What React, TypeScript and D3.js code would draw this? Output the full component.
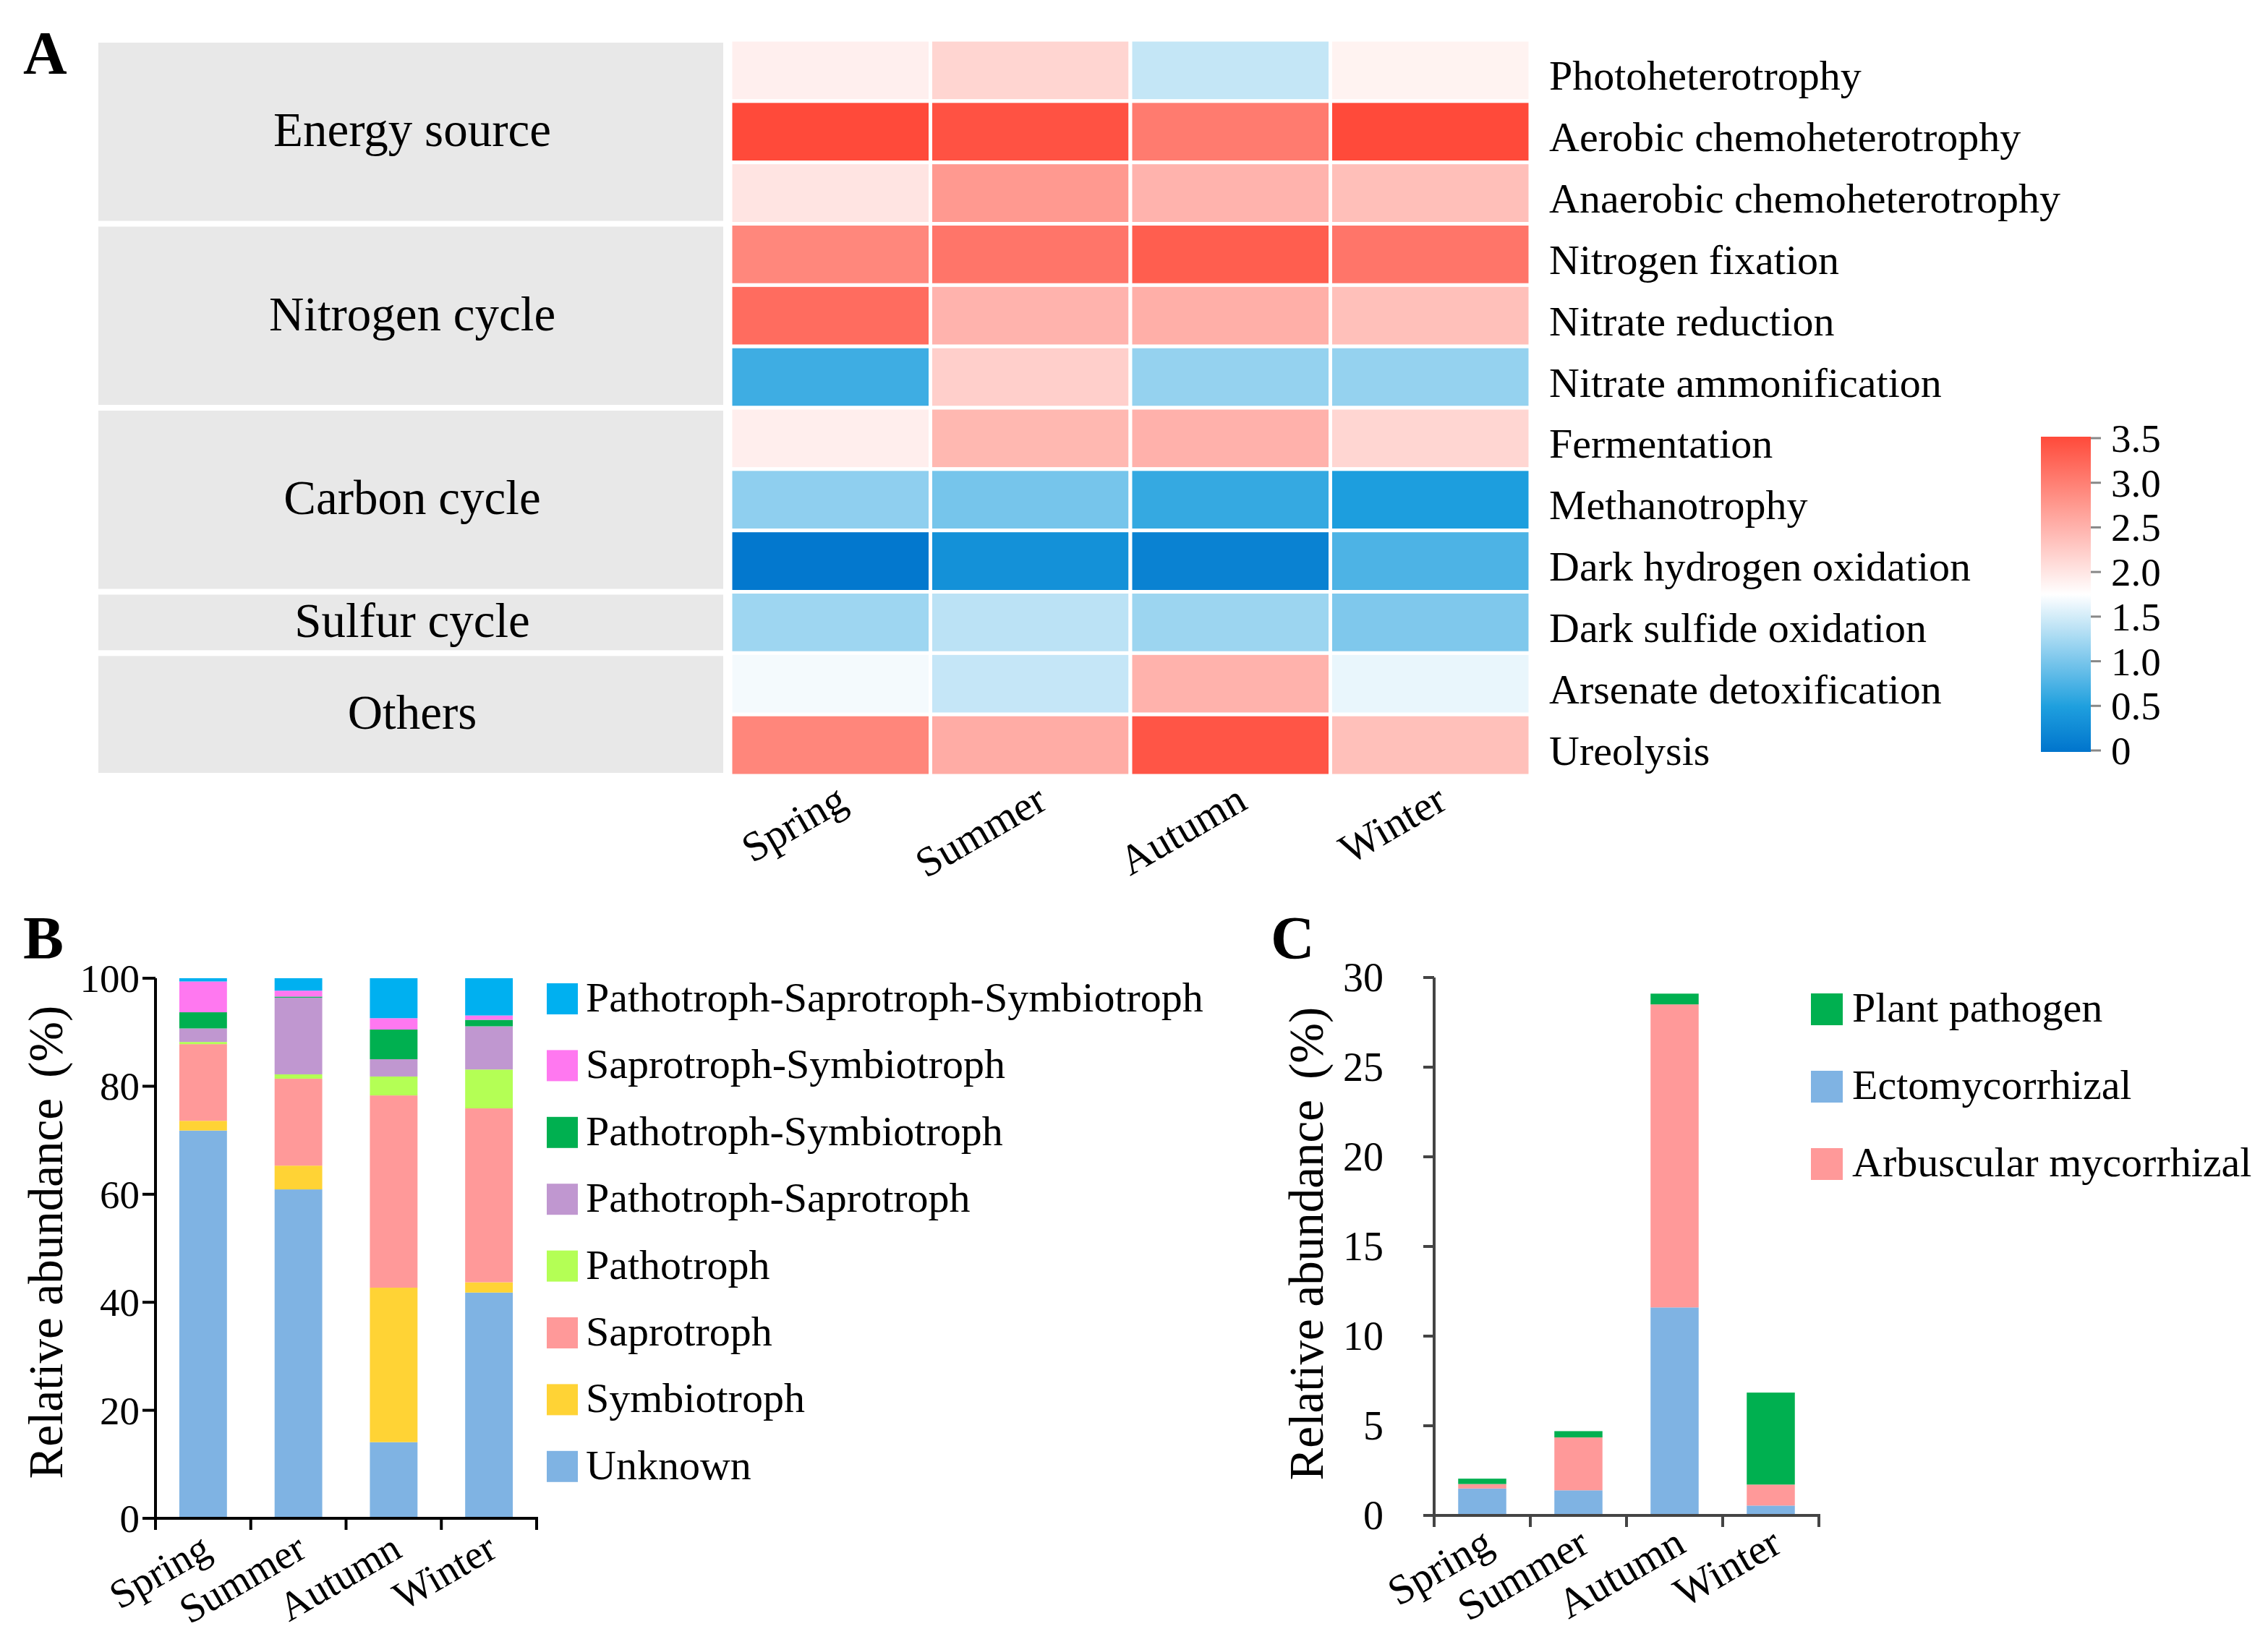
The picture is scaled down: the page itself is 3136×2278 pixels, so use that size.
import React from "react";
import * as d3 from "d3";

const seasons = ["Spring", "Summer", "Autumn", "Winter"];

const functionNames = [
  "Photoheterotrophy",
  "Aerobic chemoheterotrophy",
  "Anaerobic chemoheterotrophy",
  "Nitrogen fixation",
  "Nitrate reduction",
  "Nitrate ammonification",
  "Fermentation",
  "Methanotrophy",
  "Dark hydrogen oxidation",
  "Dark sulfide oxidation",
  "Arsenate detoxification",
  "Ureolysis",
];
const groupNames = ["Energy source", "Nitrogen cycle", "Carbon cycle", "Sulfur cycle", "Others"];
const groupSizes = [3, 3, 3, 1, 2];

const heatSpring = [1.9, 3.5, 2.01, 2.91, 3.17, 0.68, 1.91, 1.13, 0.05, 1.21, 1.69, 2.92];
const heatSummer = [2.16, 3.42, 2.74, 3.08, 2.48, 2.21, 2.44, 0.99, 0.34, 1.37, 1.43, 2.55];
const heatAutumn = [1.42, 3.03, 2.48, 3.31, 2.52, 1.16, 2.5, 0.63, 0.16, 1.2, 2.49, 3.39];
const heatWinter = [1.87, 3.5, 2.37, 3.08, 2.36, 1.16, 2.15, 0.49, 0.76, 1.04, 1.63, 2.36];
const colorbarTicks = [0, 0.5, 1.0, 1.5, 2.0, 2.5, 3.0, 3.5];

// Panel B (bottom -> top)
const guildNames = [
  "Unknown",
  "Symbiotroph",
  "Saprotroph",
  "Pathotroph",
  "Pathotroph-Saprotroph",
  "Pathotroph-Symbiotroph",
  "Saprotroph-Symbiotroph",
  "Pathotroph-Saprotroph-Symbiotroph",
];
const guildColors = ["#7fb3e3", "#ffd335", "#ff9999", "#b4ff55", "#c097d0", "#00b050", "#ff78f0", "#00b0f0"];
const unknownVals = [71.8, 60.9, 14.1, 41.8];
const symbiotrophVals = [1.8, 4.4, 28.6, 1.9];
const saprotrophVals = [14.2, 16.1, 35.6, 32.2];
const pathotrophVals = [0.4, 0.8, 3.5, 7.2];
const pathoSaproVals = [2.5, 14.2, 3.2, 8.0];
const pathoSymbVals = [3.0, 0.2, 5.5, 1.2];
const saproSymbVals = [5.7, 1.1, 2.1, 0.8];
const pathoSaproSymbVals = [0.6, 2.3, 7.4, 6.9];
const bTicks = [0, 20, 40, 60, 80, 100];

// Panel C (bottom -> top)
const cNames = ["Ectomycorrhizal", "Arbuscular mycorrhizal", "Plant pathogen"];
const cColors = ["#7fb3e3", "#ff9999", "#00b050"];
const ectoVals = [1.5, 1.4, 11.6, 0.55];
const arbuscularVals = [0.25, 2.95, 16.9, 1.17];
const plantPathogenVals = [0.3, 0.35, 0.6, 5.13];
const cLegendOrder = ["Plant pathogen", "Ectomycorrhizal", "Arbuscular mycorrhizal"];
const cTicks = [0, 5, 10, 15, 20, 25, 30];

const FONT = "'Liberation Serif', 'Times New Roman', Times, serif";

const heatColor = d3
  .scaleLinear<string>()
  .domain([0, 0.5, 1.75, 3.5])
  .range(["#0074cc", "#1e9fde", "#ffffff", "#ff4a3a"])
  .interpolate(d3.interpolateRgb)
  .clamp(true);

function PanelA() {
  const heatCols = [heatSpring, heatSummer, heatAutumn, heatWinter];
  const x = d3.scaleBand<string>().domain(seasons).range([1010, 2116]);
  const y = d3.scaleBand<string>().domain(functionNames).range([55, 1073]);
  const bw = y.bandwidth();
  const cb = d3.scaleLinear().domain([0, 3.5]).range([1038, 606]);
  const stops = d3.range(0, 3.5001, 0.125);

  let start = 0;
  const groups = groupNames.map((g, i) => {
    const first = functionNames[start];
    const last = functionNames[start + groupSizes[i] - 1];
    start += groupSizes[i];
    return { name: g, y0: (y(first) as number) + 4, y1: (y(last) as number) + bw - 4 };
  });

  return (
    <g>
      <text x={32} y={102} fontSize={84} fontWeight="bold" fontFamily={FONT}>A</text>
      {groups.map((g) => (
        <g key={g.name}>
          <rect x={136} y={g.y0} width={864} height={g.y1 - g.y0} fill="#e8e8e8" />
          <text
            x={570}
            y={(g.y0 + g.y1) / 2 + 20}
            textAnchor="middle"
            fontSize={67}
            fontFamily={FONT}
          >
            {g.name}
          </text>
        </g>
      ))}
      {seasons.map((s, si) =>
        functionNames.map((f, fi) => (
          <rect
            key={s + f}
            x={x(s)}
            y={y(f)}
            width={x.bandwidth()}
            height={bw}
            fill={heatColor(heatCols[si][fi])}
            stroke="#ffffff"
            strokeWidth={5}
          />
        ))
      )}
      {functionNames.map((f) => (
        <text key={f} x={2142} y={(y(f) as number) + bw / 2 + 27} fontSize={58} fontFamily={FONT}>
          {f}
        </text>
      ))}
      {seasons.map((s) => {
        const ex = (x(s) as number) + x.bandwidth() / 2 + 26;
        const ey = 1117;
        return (
          <text
            key={s}
            transform={`translate(${ex},${ey}) rotate(-30)`}
            textAnchor="end"
            fontSize={58}
            fontFamily={FONT}
          >
            {s}
          </text>
        );
      })}
      <defs>
        <linearGradient id="cbGrad" x1="0" y1="1" x2="0" y2="0">
          {stops.map((v) => (
            <stop key={v} offset={`${(v / 3.5) * 100}%`} stopColor={heatColor(v)} />
          ))}
        </linearGradient>
      </defs>
      <rect x={2822} y={604} width={69} height={436} fill="url(#cbGrad)" />
      {colorbarTicks.map((t) => (
        <g key={t}>
          <line x1={2891} x2={2905} y1={cb(t)} y2={cb(t)} stroke="#888" strokeWidth={3} />
          <text x={2919} y={cb(t) + 19} fontSize={55} fontFamily={FONT}>
            {t === 0 ? "0" : t.toFixed(1)}
          </text>
        </g>
      ))}
    </g>
  );
}

function PanelB() {
  const seriesVals = [
    unknownVals,
    symbiotrophVals,
    saprotrophVals,
    pathotrophVals,
    pathoSaproVals,
    pathoSymbVals,
    saproSymbVals,
    pathoSaproSymbVals,
  ];
  const rows = seasons.map((s, i) => {
    const o: any = { season: s };
    guildNames.forEach((g, gi) => (o[g] = seriesVals[gi][i]));
    return o;
  });
  const stacked = d3.stack<any>().keys(guildNames)(rows);
  const x = d3.scaleBand<string>().domain(seasons).range([215, 742]).paddingInner(0.5).paddingOuter(0.25);
  const y = d3.scaleLinear().domain([0, 100]).range([2100, 1353]);
  const step = (742 - 215) / seasons.length;
  const legendOrder = [...guildNames].reverse();
  return (
    <g>
      <text x={32} y={1326} fontSize={84} fontWeight="bold" fontFamily={FONT}>B</text>
      {stacked.map((layer, li) =>
        layer.map((d, i) => (
          <rect
            key={li + "-" + i}
            x={x(seasons[i])}
            y={y(d[1])}
            width={x.bandwidth()}
            height={Math.max(0, y(d[0]) - y(d[1]))}
            fill={guildColors[li]}
          />
        ))
      )}
      <line x1={215} x2={215} y1={1353} y2={2116} stroke="#000" strokeWidth={4} />
      <line x1={197} x2={744} y1={2100} y2={2100} stroke="#000" strokeWidth={4} />
      {bTicks.map((t) => (
        <g key={t}>
          <line x1={197} x2={215} y1={y(t)} y2={y(t)} stroke="#000" strokeWidth={4} />
          <text x={193} y={y(t) + 19} textAnchor="end" fontSize={55} fontFamily={FONT}>
            {t}
          </text>
        </g>
      ))}
      {d3.range(seasons.length + 1).map((i) => (
        <line key={i} x1={215 + i * step} x2={215 + i * step} y1={2100} y2={2116} stroke="#000" strokeWidth={4} />
      ))}
      {seasons.map((s) => (
        <text
          key={s}
          transform={`translate(${(x(s) as number) + x.bandwidth() / 2 + 14},2152) rotate(-30)`}
          textAnchor="end"
          fontSize={56}
          fontFamily={FONT}
        >
          {s}
        </text>
      ))}
      <text transform="translate(86,1718) rotate(-90)" textAnchor="middle" fontSize={67} fontFamily={FONT}>
        Relative abundance<tspan dx={28}>(%)</tspan>
      </text>
      {legendOrder.map((g, i) => (
        <g key={g}>
          <rect x={756} y={1360 + i * 92.4} width={43} height={43} fill={guildColors[guildNames.indexOf(g)]} />
          <text x={810} y={1360 + i * 92.4 + 39} fontSize={58} fontFamily={FONT}>
            {g}
          </text>
        </g>
      ))}
    </g>
  );
}

function PanelC() {
  const seriesVals = [ectoVals, arbuscularVals, plantPathogenVals];
  const rows = seasons.map((s, i) => {
    const o: any = { season: s };
    cNames.forEach((g, gi) => (o[g] = seriesVals[gi][i]));
    return o;
  });
  const stacked = d3.stack<any>().keys(cNames)(rows);
  const x = d3.scaleBand<string>().domain(seasons).range([1983, 2515]).paddingInner(0.5).paddingOuter(0.25);
  const y = d3.scaleLinear().domain([0, 30]).range([2096, 1352]);
  const step = (2515 - 1983) / seasons.length;
  const axisColor = "#444";
  return (
    <g>
      <text x={1757} y={1326} fontSize={84} fontWeight="bold" fontFamily={FONT}>C</text>
      {stacked.map((layer, li) =>
        layer.map((d, i) => (
          <rect
            key={li + "-" + i}
            x={x(seasons[i])}
            y={y(d[1])}
            width={x.bandwidth()}
            height={Math.max(0, y(d[0]) - y(d[1]))}
            fill={cColors[li]}
          />
        ))
      )}
      <line x1={1983} x2={1983} y1={1352} y2={2112} stroke={axisColor} strokeWidth={4} />
      <line x1={1968} x2={2517} y1={2096} y2={2096} stroke={axisColor} strokeWidth={4} />
      {cTicks.map((t) => (
        <g key={t}>
          <line x1={1968} x2={1983} y1={y(t)} y2={y(t)} stroke={axisColor} strokeWidth={4} />
          <text x={1913} y={y(t) + 19} textAnchor="end" fontSize={56} fontFamily={FONT}>
            {t}
          </text>
        </g>
      ))}
      {d3.range(seasons.length + 1).map((i) => (
        <line key={i} x1={1983 + i * step} x2={1983 + i * step} y1={2096} y2={2112} stroke={axisColor} strokeWidth={4} />
      ))}
      {seasons.map((s) => (
        <text
          key={s}
          transform={`translate(${(x(s) as number) + x.bandwidth() / 2 + 18},2145) rotate(-30)`}
          textAnchor="end"
          fontSize={58}
          fontFamily={FONT}
        >
          {s}
        </text>
      ))}
      <text transform="translate(1829,1720) rotate(-90)" textAnchor="middle" fontSize={67} fontFamily={FONT}>
        Relative abundance<tspan dx={28}>(%)</tspan>
      </text>
      {cLegendOrder.map((g, i) => (
        <g key={g}>
          <rect x={2504} y={1374 + i * 107} width={44} height={44} fill={cColors[cNames.indexOf(g)]} />
          <text x={2561} y={1374 + i * 107 + 39} fontSize={58} fontFamily={FONT}>
            {g}
          </text>
        </g>
      ))}
    </g>
  );
}

export default function App() {
  return (
    <svg
      width={3136}
      height={2278}
      viewBox="0 0 3136 2278"
      style={{ position: "absolute", left: 0, top: 0, background: "#fff" }}
      xmlns="http://www.w3.org/2000/svg"
    >
      <rect x={0} y={0} width={3136} height={2278} fill="#fff" />
      <PanelA />
      <PanelB />
      <PanelC />
    </svg>
  );
}
